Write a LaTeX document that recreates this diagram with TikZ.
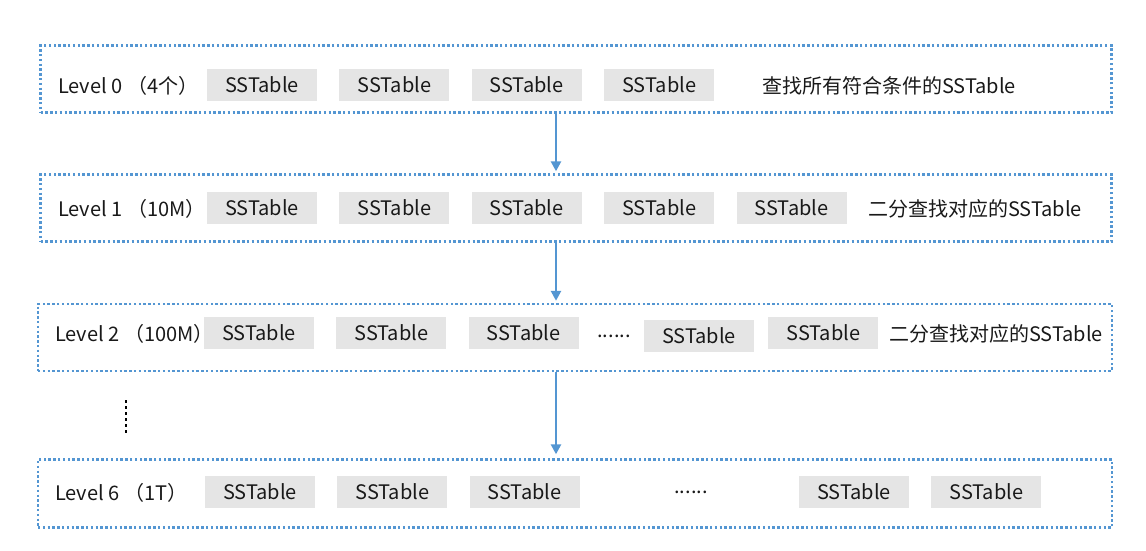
\documentclass[tikz,border=0pt]{standalone}
\usepackage{fontspec}
\setmainfont{Noto Sans CJK SC}
\usetikzlibrary{positioning, arrows.meta}
\definecolor{frameblue}{RGB}{84,150,210}
\definecolor{textdark}{RGB}{25,25,25}

\begin{document}
\begin{tikzpicture}[
        x=1pt, y=-1pt,
        font=\fontsize{20}{24}\selectfont, text=textdark,
        node distance=22pt,
        levelframe/.style={rectangle, draw=frameblue, line width=2.4pt, dash pattern=on 2.4pt off 2.4pt, minimum width=1071pt, minimum height=67pt, inner sep=0pt},
        sstable/.style={rectangle, fill=gray!20, minimum width=110pt, minimum height=32pt, inner sep=0pt},
        caption/.style={anchor=west, inner sep=0pt},
        flow/.style={draw=frameblue, line width=2.5pt, -{Triangle[width=10pt,length=10pt]}}
    ]
        \useasboundingbox (0,0) rectangle (1146,550);

        % Level 0
        \node[levelframe] (LV0) at (576,79) {};
        \node[caption] (LV0T) at (58,86) {Level 0 （4个）};
        \node[sstable] (LV0A) at (262,85) {SSTable};
        \node[sstable, right=of LV0A] (LV0B) {SSTable};
        \node[sstable, right=of LV0B] (LV0C) {SSTable};
        \node[sstable, right=of LV0C] (LV0D) {SSTable};
        \node[caption] (LV0N) at (762,86) {查找所有符合条件的SSTable};

        % Level 1
        \node[levelframe] (LV1) at (576,208) {};
        \node[caption] (LV1T) at (58,209) {Level 1 （10M）};
        \node[sstable] (LV1A) at (262,208) {SSTable};
        \node[sstable, right=of LV1A] (LV1B) {SSTable};
        \node[sstable, right=of LV1B] (LV1C) {SSTable};
        \node[sstable, right=of LV1C] (LV1D) {SSTable};
        \node[sstable, right=of LV1D] (LV1E) {SSTable};
        \node[caption] (LV1N) at (868,209) {二分查找对应的SSTable};

        % Level 2
        \node[levelframe, minimum width=1074pt] (LV2) at (575,337.5) {};
        \node[caption] (LV2T) at (55,334) {Level 2 （100M）};
        \node[sstable] (LV2A) at (259,333) {SSTable};
        \node[sstable, right=of LV2A] (LV2B) {SSTable};
        \node[sstable, right=of LV2B] (LV2C) {SSTable};
        \node (LV2G) at (614,336) {......};
        \node[sstable] (LV2D) at (699,336) {SSTable};
        \node[sstable, right=14pt of LV2D.east, anchor=west, yshift=3pt] (LV2E) {SSTable};
        \node[caption] (LV2N) at (889,334) {二分查找对应的SSTable};

        % skipped levels
        \draw[line width=2.6pt, dash pattern=on 2.6pt off 3.4pt] (126,400) -- (126,433);

        % Level 6
        \node[levelframe, minimum width=1074pt, minimum height=68pt] (LV6) at (575,493.5) {};
        \node[caption] (LV6T) at (55,493) {Level 6 （1T）};
        \node[sstable] (LV6A) at (260,492) {SSTable};
        \node[sstable, right=of LV6A] (LV6B) {SSTable};
        \node[sstable, right=of LV6B] (LV6C) {SSTable};
        \node (LV6G) at (691,492) {......};
        \node[sstable] (LV6D) at (854,492) {SSTable};
        \node[sstable, right=of LV6D] (LV6E) {SSTable};

        \draw[flow] ([xshift=-20pt]LV0.south) -- ([xshift=-20pt, yshift=2pt]LV1.north);
        \draw[flow] ([xshift=-20pt]LV1.south) -- ([xshift=-19pt, yshift=2pt]LV2.north);
        \draw[flow] ([xshift=-19pt]LV2.south) -- ([xshift=-19pt, yshift=4pt]LV6.north);
    \end{tikzpicture}
\end{document}
